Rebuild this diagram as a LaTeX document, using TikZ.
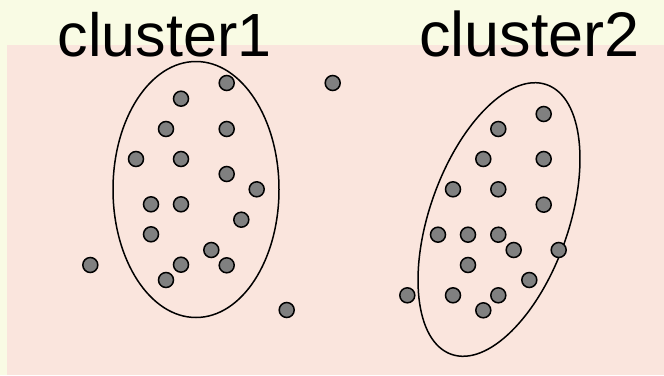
\documentclass[tikz,border=0pt]{standalone}
\usepackage{fontspec}
\setmainfont{Liberation Sans}
\definecolor{bgyellow}{RGB}{249,251,228}
\definecolor{bgpink}{RGB}{250,229,221}
\definecolor{dotgray}{RGB}{128,128,128}
\tikzset{
  dot/.style={circle, draw=black, fill=dotgray, line width=1.5pt, minimum size=15pt, inner sep=0pt},
  hull/.style={draw=black, line width=1.5pt},
  title/.style={anchor=base west, inner sep=0pt, font=\fontsize{61}{70}\selectfont}
}
\begin{document}
\begin{tikzpicture}[x=1pt, y=-1pt]
  \useasboundingbox (0,0) rectangle (664,375);
  % backgrounds
  \fill[bgyellow] (0,0) rectangle (664,375);
  \fill[bgpink] (7,45) rectangle (664,375);

  % titles
  \node[title] (t1) at (57.5,56) {cluster1};
  \node[title, font=\fontsize{63}{72}\selectfont] (t2) at (419,56.5) {cluster2};

  % cluster outlines
  \draw[hull] (196,189.5) ellipse [x radius=83, y radius=128];
  \draw[hull, rotate around={-19.5:(499,219.5)}] (499,219.5) ellipse [x radius=69.4, y radius=143];

  % points of the first cluster
  \foreach \px/\py [count=\i] in {226.7/83, 181/98.7, 166/129, 226.7/129, 136/159, 181/159,
      226.7/174, 256.7/189.3, 151/204.3, 181/204.3, 241.3/219.7, 151/234.3, 211.3/250,
      181/264.7, 226.7/265.3, 166/280}
    \node[dot] (a\i) at (\px,\py) {};

  % points outside both clusters
  \foreach \px/\py [count=\i] in {90.3/265, 286.7/310, 332.7/83}
    \node[dot] (o\i) at (\px,\py) {};

  % points of the second cluster
  \foreach \px/\py [count=\i] in {543.7/114, 498.3/129, 483.3/159, 543.7/159, 453/189.3,
      498.3/189.3, 543.7/204.7, 438/234.7, 468/234.7, 498.3/234.7, 513.7/250, 558.7/250,
      468/265, 529.3/280, 407.3/295.3, 453/295.3, 498.3/295.3, 483.3/310.3}
    \node[dot] (b\i) at (\px,\py) {};
\end{tikzpicture}
\end{document}
